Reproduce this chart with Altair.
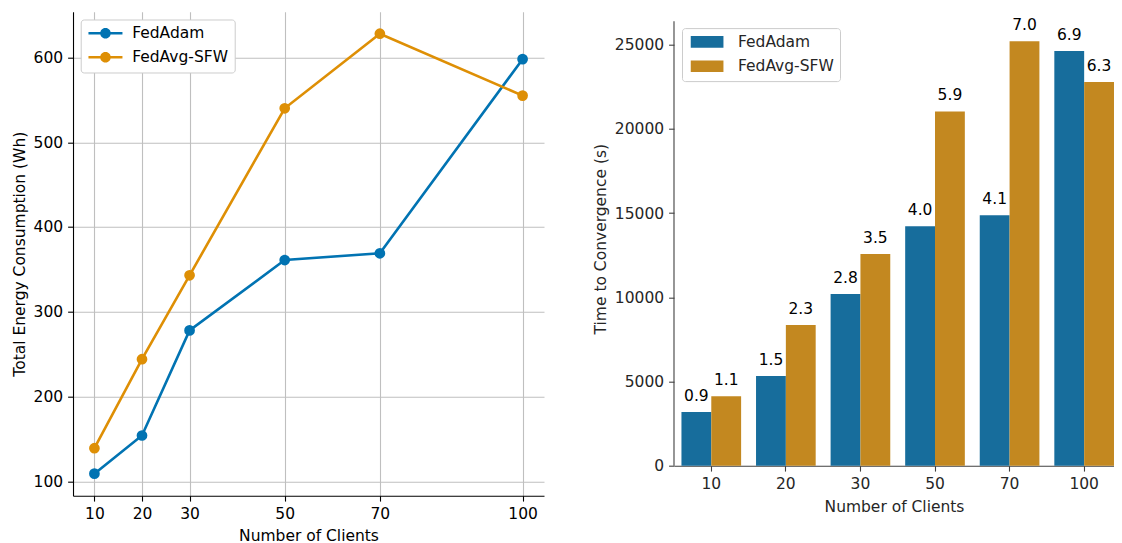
import math
import altair as alt
import pandas as pd

# ---------------- data ----------------
clients = [10, 20, 30, 50, 70, 100]
series = ["FedAdam", "FedAvg-SFW"]

energy_fedadam = [109, 154, 278, 361, 369, 598]
energy_fedavg_sfw = [139, 244, 343, 540, 628, 555]

time_fedadam = [3185, 5320, 10190, 14215, 14875, 24620]
time_fedavg_sfw = [4130, 8360, 12575, 21040, 25200, 22780]
hours_fedadam = ["0.9", "1.5", "2.8", "4.0", "4.1", "6.9"]
hours_fedavg_sfw = ["1.1", "2.3", "3.5", "5.9", "7.0", "6.3"]

energy_ticks = [100, 200, 300, 400, 500, 600]
time_ticks = [0, 5000, 10000, 15000, 20000, 25000]
energy_domain = [83, 654]
clients_domain = [5.5, 104.5]
time_domain = [0, 26960]
time_limit = 26400

# ---------------- style ----------------
FONT = "DejaVu Sans"
FS = 15.5
line_colors = ["#0173B2", "#DE8F05"]
bar_colors = ["#176D9C", "#C38820"]
INK_L = "#000000"
INK_R = "#262626"
SPINE_R = "#404040"

energy_df = pd.DataFrame({
    "clients": clients * 2,
    "series": [series[0]] * len(clients) + [series[1]] * len(clients),
    "energy": energy_fedadam + energy_fedavg_sfw,
})
time_df = pd.DataFrame({
    "clients": [str(c) for c in clients] * 2,
    "series": [series[0]] * len(clients) + [series[1]] * len(clients),
    "time": time_fedadam + time_fedavg_sfw,
    "label": hours_fedadam + hours_fedavg_sfw,
})

def axis_common(ink, spine, label_pad=5, **kw):
    return dict(
        labelFont=FONT, labelFontSize=FS, labelColor=ink,
        titleFont=FONT, titleFontSize=FS, titleFontWeight="normal", titleColor=ink,
        domainColor=spine, domainWidth=1.1, tickColor=spine, tickWidth=1.1,
        tickSize=5.4, labelPadding=label_pad, labelOverlap=False, labelFlush=False, **kw)

# custom legend symbols (unit = half of sqrt(symbolSize)); circle as polygon
c = 2.2
r = 0.8
poly = " ".join(
    f"{'M' if k == 0 else 'L'}{c + r * math.cos(2 * math.pi * k / 24):.3f},"
    f"{r * math.sin(2 * math.pi * k / 24):.3f}" for k in range(24))
line_symbol = f"M-1.2,0H5.6{poly}Z"
rect_symbol = "M-1,-1.17H5.54V1.17H-1Z"

legend_line = alt.Legend(
    orient="none", legendX=7.7, legendY=7.8, title=None,
    fillColor="white", strokeColor="#cccccc", cornerRadius=3,
    padding=6, rowPadding=5.0, labelFont=FONT, labelFontSize=FS,
    labelColor=INK_L, symbolType=line_symbol, symbolSize=100,
    symbolStrokeWidth=2.6, labelOffset=30, symbolOpacity=1)

legend_bar = alt.Legend(
    orient="none", legendX=8, legendY=16.4, title=None,
    fillColor="white", strokeColor="#cccccc", cornerRadius=3,
    padding=6, rowPadding=7.4, labelFont=FONT, labelFontSize=FS,
    labelColor=INK_R, symbolType=rect_symbol, symbolSize=100,
    symbolStrokeWidth=0, labelOffset=34.5, symbolOpacity=1)

color_line = alt.Color("series:N", scale=alt.Scale(domain=series, range=line_colors),
                       legend=legend_line)

x_left = alt.X("clients:Q",
               scale=alt.Scale(domain=clients_domain, nice=False, zero=False),
               axis=alt.Axis(values=clients, format="d", title="Number of Clients",
                             grid=True, gridColor="#bfbfbf", gridWidth=1.1,
                             titlePadding=6,
                             **axis_common(INK_L, INK_L, label_pad=5.5)))
y_left = alt.Y("energy:Q",
               scale=alt.Scale(domain=energy_domain, nice=False, zero=False),
               axis=alt.Axis(values=energy_ticks, format="d",
                             title="Total Energy Consumption (Wh)",
                             grid=True, gridColor="#bfbfbf", gridWidth=1.1,
                             titlePadding=6,
                             **axis_common(INK_L, INK_L)))

base_left = alt.Chart(energy_df).encode(x=x_left, y=y_left, color=color_line)
lines = base_left.mark_line(strokeWidth=2.6)
points = base_left.mark_point(filled=True, size=115, opacity=1)
left = alt.layer(lines, points).properties(width=471, height=484)

# ---------------- right chart ----------------
x_right = alt.X("clients:N", sort=[str(c) for c in clients],
                scale=alt.Scale(paddingInner=0.2, paddingOuter=0.05, align=1),
                axis=alt.Axis(title="Number of Clients", labelAngle=0, grid=False,
                              titlePadding=7,
                              **axis_common(INK_R, SPINE_R, label_pad=5.5)))
xoff = alt.XOffset("series:N", sort=series,
                   scale=alt.Scale(domain=series, paddingInner=0, paddingOuter=0))
y_right = alt.Y("time:Q", scale=alt.Scale(domain=time_domain, nice=False),
                axis=alt.Axis(values=time_ticks, format="d", title="Time to Convergence (s)",
                              grid=False, domain=False, titlePadding=6,
                              **axis_common(INK_R, SPINE_R)))

base_right = alt.Chart(time_df).encode(x=x_right, xOffset=xoff, y=y_right)
bars = base_right.mark_bar().encode(
    color=alt.Color("series:N", scale=alt.Scale(domain=series, range=bar_colors),
                    legend=legend_bar))
texts = base_right.mark_text(baseline="alphabetic", dy=-11.3, font=FONT,
                             fontSize=FS, color="#000000").encode(text="label:N")
spine = alt.Chart(pd.DataFrame({"a": [0]})).mark_rule(
    color=SPINE_R, strokeWidth=1.1).encode(
    x=alt.value(0), y=alt.datum(0), y2=alt.datum(time_limit))
right = alt.layer(bars, texts, spine).properties(width=440, height=454)

chart = alt.hconcat(left, right, spacing=49).resolve_scale(
    color="independent").resolve_legend(color="independent").properties(
    padding={"left": 4, "top": 3.7, "right": 0, "bottom": 0},
    background="white",
).configure_view(stroke=None)

chart.save("out.html", embed_options={"renderer": "svg", "actions": False})
